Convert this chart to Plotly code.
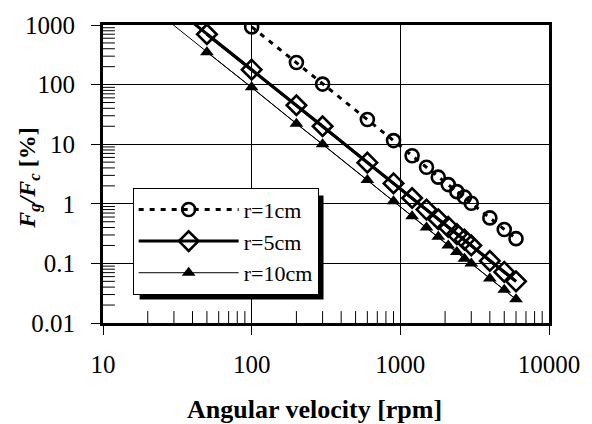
import numpy as np
import plotly.graph_objects as go

# ---- data ----
rpm_1 = [100, 200, 300, 600, 900, 1200, 1500, 1800, 2100, 2400, 2700, 3000, 4000, 5000, 6000]
ratio_1 = [930, 235, 102, 26, 11.5, 6.4, 4.1, 2.8, 2.1, 1.6, 1.3, 1.02, 0.58, 0.37, 0.26]

rpm_5 = [50, 100, 200, 300, 600, 900, 1200, 1500, 1800, 2100, 2400, 2700, 3000, 4000, 5000, 6000]
ratio_5 = [700, 178, 45, 20, 4.9, 2.2, 1.25, 0.8, 0.55, 0.41, 0.31, 0.25, 0.2, 0.11, 0.072, 0.05]

rpm_10 = [50, 100, 200, 300, 600, 900, 1200, 1500, 1800, 2100, 2400, 2700, 3000, 4000, 5000, 6000]
ratio_10 = [350, 90, 22, 10, 2.5, 1.1, 0.62, 0.40, 0.28, 0.20, 0.155, 0.12, 0.10, 0.056, 0.036, 0.025]

labels = ["r=1cm", "r=5cm", "r=10cm"]
x_ticks = [10, 100, 1000, 10000]
y_ticks = [0.01, 0.1, 1, 10, 100, 1000]
trend_start_rpm = 20  # power-law trend lines are extrapolated from here (clipped by the axes)

FONT = "Liberation Serif"


def power_fit(x, y, x_line):
    b, a = np.polyfit(np.log10(x), np.log10(y), 1)
    x_line = np.asarray(x_line, dtype=float)
    return x_line, 10 ** (a + b * np.log10(x_line))


def minor_vals(major):
    return [k * m for m in major[:-1] for k in range(2, 10)]


fig = go.Figure()

# r=1cm: dotted connecting line with open circles
fig.add_trace(go.Scatter(
    x=rpm_1, y=ratio_1, name=labels[0], mode="lines+markers",
    line=dict(color="black", width=3, dash="5px,6px"),
    marker=dict(symbol="circle-open", size=13, color="black", line=dict(width=2.6)),
))

# r=5cm: thick power trend line + open diamonds
tx, ty = power_fit(rpm_5, ratio_5, np.geomspace(trend_start_rpm, rpm_5[-1], 60))
fig.add_trace(go.Scatter(x=tx, y=ty, mode="lines", showlegend=False, hoverinfo="skip",
                         line=dict(color="black", width=3)))
fig.add_trace(go.Scatter(
    x=rpm_5, y=ratio_5, name=labels[1], mode="lines+markers",
    line=dict(color="black", width=3),
    marker=dict(symbol="diamond-open", size=15, color="black", line=dict(width=2.6)),
))

# r=10cm: thin power trend line + filled triangles
tx, ty = power_fit(rpm_10, ratio_10, np.geomspace(trend_start_rpm, rpm_10[-1], 60))
fig.add_trace(go.Scatter(x=tx, y=ty, mode="lines", showlegend=False, hoverinfo="skip",
                         line=dict(color="black", width=1)))
fig.add_trace(go.Scatter(
    x=rpm_10, y=ratio_10, name=labels[2], mode="lines+markers",
    line=dict(color="black", width=1),
    marker=dict(symbol="triangle-up", size=12, color="black"),
))

# inside minor ticks (2..9 of each decade), drawn as tick-shaped markers on the axis
# lines; the half outside the plotting area is clipped away
xm = minor_vals(x_ticks)
ym = minor_vals(y_ticks)
fig.add_trace(go.Scatter(
    x=xm, y=[y_ticks[0]] * len(xm), mode="markers", showlegend=False, hoverinfo="skip",
    cliponaxis=True,
    marker=dict(symbol="line-ns", size=17, color="black", line=dict(width=1, color="black")),
))
fig.add_trace(go.Scatter(
    x=[x_ticks[0]] * len(ym), y=ym, mode="markers", showlegend=False, hoverinfo="skip",
    cliponaxis=True,
    marker=dict(symbol="line-ew", size=17, color="black", line=dict(width=1, color="black")),
))

axis_common = dict(
    type="log", showline=True, linewidth=3, linecolor="black", mirror=True,
    ticks="outside", ticklen=9, tickwidth=1, tickcolor="black",
    showgrid=True, gridcolor="black", gridwidth=1, zeroline=False,
    tickfont=dict(family=FONT, size=25, color="black"),
    tickmode="array", exponentformat="none",
)

fig.update_xaxes(range=[1, 4], tickvals=x_ticks, ticktext=[str(v) for v in x_ticks],
                 ticklabelstandoff=8, **axis_common)
fig.update_yaxes(range=[-2, 3], tickvals=y_ticks, ticktext=[f"{v:g}" for v in y_ticks],
                 ticklabelstandoff=11, **axis_common)

fig.update_layout(
    width=592, height=424,
    margin=dict(l=103, r=38, t=19, b=101),
    paper_bgcolor="white", plot_bgcolor="white",
    font=dict(family=FONT, color="black"),
    showlegend=True,
    legend=dict(
        x=(133 - 103) / 451, y=(323 - 185) / 304, xanchor="left", yanchor="top",
        bgcolor="white", bordercolor="black", borderwidth=1,
        font=dict(family=FONT, size=22, color="black"),
        itemwidth=100, tracegroupgap=0,
    ),
    shapes=[
        # legend drop shadow
        dict(type="rect", xref="paper", yref="paper",
             x0=(140 - 103) / 451, x1=(326 - 103) / 451,
             y0=(323 - 299) / 304, y1=(323 - 193) / 304,
             fillcolor="black", line=dict(width=0), layer="above"),
    ],
    annotations=[
        dict(text="<b>Angular velocity [rpm]</b>", xref="paper", yref="paper",
             x=(317 - 103) / 451, y=(323 - 411) / 304, showarrow=False,
             xanchor="center", yanchor="middle",
             font=dict(family=FONT, size=26, color="black")),
        dict(text="<b><i>F</i><sub><i>g</i></sub><i>/F</i><sub><i>c</i></sub> [%]</b>",
             xref="paper", yref="paper", textangle=-90,
             x=(28 - 103) / 451, y=(323 - 175) / 304, showarrow=False,
             xanchor="center", yanchor="middle",
             font=dict(family=FONT, size=24, color="black")),
    ],
)

fig.write_html("out.html")
